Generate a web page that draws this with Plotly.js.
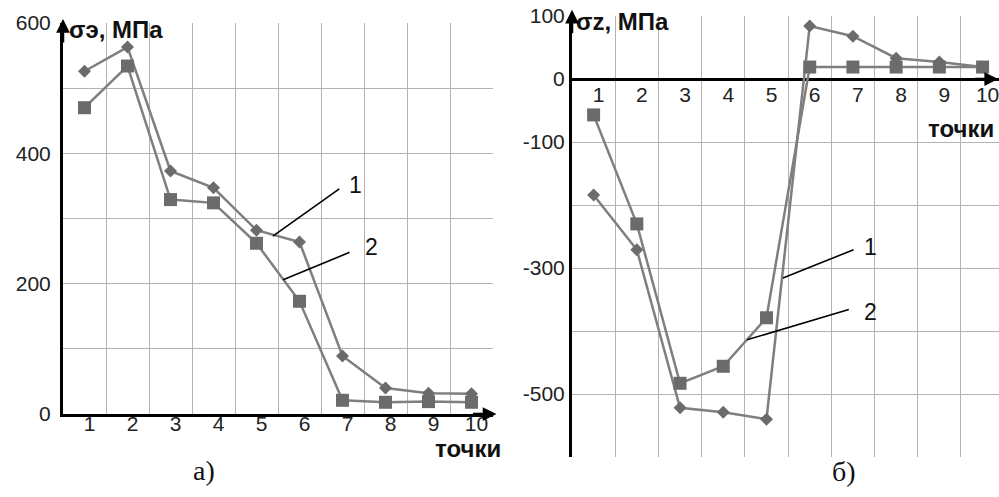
<!DOCTYPE html>
<html>
<head>
<meta charset="utf-8">
<script src="https://cdn.plot.ly/plotly-3.0.1.min.js"></script>
<style>html,body{margin:0;padding:0;background:#fff;}#chart{width:999px;height:497px;}</style>
</head>
<body>
<div id="chart"></div>
<script>
// ---- data ----
const points = [1, 2, 3, 4, 5, 6, 7, 8, 9, 10];
const tickLabels = ['1', '2', '3', '4', '5', '6', '7', '8', '9', '10'];
const sigmaE_1 = [526, 563, 373, 347, 282, 264, 89, 40, 32, 31];
const sigmaE_2 = [470, 534, 329, 324, 262, 173, 21, 18, 19, 18];
const sigmaZ_1 = [-184, -271, -522, -529, -540, 84, 68, 33, 27, 19];
const sigmaZ_2 = [-57, -230, -483, -456, -379, 19, 19, 19, 19, 19];
const leftYTicks = [0, 200, 400, 600];
const rightYTickVals = [100, 0, -100, -200, -300, -400, -500, -600];
const rightYTickText = ['100', '0', '-100', '', '-300', '', '-500', ''];
const gridVals = [0.5, 1.5, 2.5, 3.5, 4.5, 5.5, 6.5, 7.5, 8.5, 9.5, 10.5];

const W = 999, H = 497;
const lineColor = '#7f7f7f';
const markColor = '#6b6b6b';
const gridColor = '#b3b3b3';
const tickFont = {family: 'Liberation Sans, Arial, sans-serif', size: 21, color: '#222'};

function series(y, sym, size, xa, ya) {
  return {
    x: points, y: y, xaxis: xa, yaxis: ya, type: 'scatter', mode: 'lines+markers',
    line: {color: lineColor, width: 2.5},
    marker: {symbol: sym, size: size, color: markColor},
    hoverinfo: 'skip', showlegend: false, cliponaxis: false
  };
}
function carrier(xa, ya, y) {
  return {x: points, y: y, xaxis: xa, yaxis: ya, type: 'scatter', mode: 'markers',
    marker: {opacity: 0}, hoverinfo: 'skip', showlegend: false};
}

const data = [
  series(sigmaE_1, 'diamond', 10, 'x', 'y'),
  series(sigmaE_2, 'square', 13, 'x', 'y'),
  series(sigmaZ_1, 'diamond', 10, 'x2', 'y2'),
  series(sigmaZ_2, 'square', 13, 'x2', 'y2'),
  // carriers for the tick-label axes
  carrier('x3', 'y2', sigmaZ_2),
  carrier('x4', 'y', sigmaE_2)
];

const px = v => v / W;
const py = v => 1 - v / H;

const labelAxis = (over, pos, range) => ({
  overlaying: over, anchor: 'free', position: pos, side: 'bottom', range: range,
  tickmode: 'array', tickvals: points, ticktext: tickLabels,
  showgrid: false, zeroline: false, showline: false,
  ticks: '', ticklabeloverflow: 'allow', ticklabelshift: 5, tickfont: tickFont
});

const layout = {
  width: W, height: H,
  margin: {l: 0, r: 0, t: 0, b: 0},
  paper_bgcolor: '#fff', plot_bgcolor: '#fff',
  showlegend: false,
  xaxis: {
    domain: [px(63), px(493)], range: [0.5, 10.5], anchor: 'y',
    showticklabels: false, ticks: '',
    showgrid: false, zeroline: false,
    showline: true, linecolor: '#000', linewidth: 3,
    minor: {tickmode: 'array', tickvals: gridVals, showgrid: true, gridcolor: gridColor, gridwidth: 1}
  },
  xaxis4: labelAxis('x', py(409), [0.5, 10.5]),
  yaxis: {
    domain: [py(414), py(23)], range: [0, 600], anchor: 'x',
    tickmode: 'array', tickvals: leftYTicks,
    showgrid: true, gridcolor: gridColor, gridwidth: 1, zeroline: false,
    showline: true, linecolor: '#000', linewidth: 3,
    ticks: 'outside', ticklen: 5, tickcolor: 'rgba(0,0,0,0)', tickfont: tickFont,
    minor: {dtick: 100, tick0: 0, showgrid: true, gridcolor: gridColor, gridwidth: 1}
  },
  xaxis2: {
    domain: [px(572), 1], range: [0.5, 10.38], anchor: 'y2',
    showticklabels: false, showgrid: false, zeroline: false, showline: false,
    minor: {tickmode: 'array', tickvals: gridVals, showgrid: true, gridcolor: gridColor, gridwidth: 1}
  },
  xaxis3: labelAxis('x2', py(80), [0.5, 10.38]),
  yaxis2: {
    domain: [py(457), py(16)], range: [-600, 100], anchor: 'x2',
    tickmode: 'array', tickvals: rightYTickVals, ticktext: rightYTickText,
    showgrid: true, gridcolor: gridColor, gridwidth: 1,
    zeroline: true, zerolinecolor: '#000', zerolinewidth: 3,
    showline: true, linecolor: '#000', linewidth: 3,
    ticks: '', tickfont: tickFont
  },
  annotations: []
};

const ann = layout.annotations;
const boldFont = {family: 'Liberation Sans, Arial, sans-serif', size: 24, color: '#111', weight: 'bold'};
// axis titles
ann.push({xref: 'paper', yref: 'paper', x: px(67), y: py(30), xanchor: 'left', yanchor: 'middle',
  text: '<b>σэ, МПа</b>', showarrow: false, font: boldFont});
ann.push({xref: 'paper', yref: 'paper', x: px(574), y: py(22), xanchor: 'left', yanchor: 'middle',
  text: '<b>σz, МПа</b>', showarrow: false, font: boldFont});
ann.push({xref: 'paper', yref: 'paper', x: px(503), y: py(448), xanchor: 'right', yanchor: 'middle',
  text: '<b>точки</b>', showarrow: false, font: boldFont});
ann.push({xref: 'paper', yref: 'paper', x: px(996), y: py(128), xanchor: 'right', yanchor: 'middle',
  text: '<b>точки</b>', showarrow: false, font: boldFont});
// panel labels
const serif = {family: 'Liberation Serif, Times New Roman, serif', size: 28, color: '#111'};
ann.push({xref: 'paper', yref: 'paper', x: px(191), y: py(470), yanchor: 'middle', text: 'а)', showarrow: false, font: serif});
ann.push({xref: 'paper', yref: 'paper', x: px(858), y: py(471), yanchor: 'middle', text: 'б)', showarrow: false, font: serif});
// axis arrows
function arrow(xref, yref, x, y, ax, ay) {
  ann.push({xref: xref, yref: yref, x: x, y: y, ax: ax, ay: ay, text: '', showarrow: true,
    arrowhead: 2, arrowsize: 1.1, arrowwidth: 2.5, arrowcolor: '#000', standoff: 0});
}
arrow('x domain', 'y domain', 0, 1.01, 0, 25);
arrow('x domain', 'y domain', 1.008, 0, -25, 0);
arrow('x2 domain', 'y2 domain', 0, 1.014, 0, 25);
arrow('x2 domain', 'y2', 0.998, 0, -25, 0);
// leader lines with curve numbers
function leader(xa, ya, tipX, tipY, endX, endY, label, lx, ly) {
  ann.push({xref: xa, yref: ya, axref: xa, ayref: ya, x: tipX, y: tipY, ax: endX, ay: endY,
    text: '', showarrow: true, arrowhead: 0, arrowwidth: 1.6, arrowcolor: '#000'});
  ann.push({xref: xa, yref: ya, x: lx, y: ly, text: label, showarrow: false,
    font: {family: 'Liberation Sans, Arial, sans-serif', size: 23, color: '#111'}});
}
leader('x', 'y', 5.38, 273, 6.96, 347, '1', 7.3, 352);
leader('x', 'y', 5.62, 206, 7.2, 249, '2', 7.68, 256);
leader('x2', 'y2', 5.38, -316, 7.05, -270, '1', 7.4, -267);
leader('x2', 'y2', 4.55, -414, 6.94, -365, '2', 7.4, -370);

Plotly.newPlot('chart', data, layout, {staticPlot: true, displayModeBar: false});
</script>
</body>
</html>
